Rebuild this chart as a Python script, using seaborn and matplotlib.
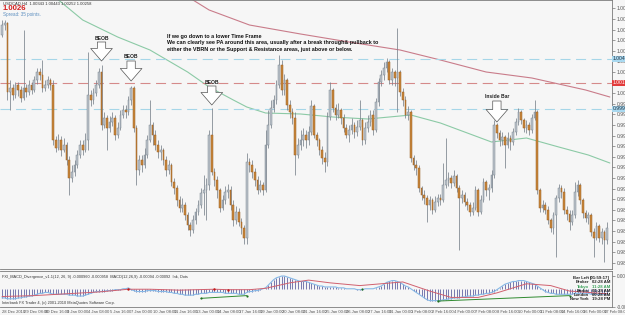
import numpy as np
import pandas as pd
import matplotlib
matplotlib.use("Agg")
import matplotlib.pyplot as plt
import seaborn as sns

# --- DATA (USDCAD H4) ---
first_open = 1.0065
closes = [1.0075, 1.0077, 1.0008, 1.0012, 1.0005, 1.0015, 1.0010, 1.0002, 1.0012, 1.0008,
          1.0015, 1.0010, 1.0020, 1.0028, 1.0025, 1.0012, 1.0015, 1.0020, 1.0015, 0.9960,
          0.9952, 0.9960, 0.9950, 0.9955, 0.9940, 0.9922, 0.9928, 0.9935, 0.9945, 0.9955,
          0.9950, 0.9960, 1.0005, 1.0000, 1.0007, 1.0015, 1.0028, 0.9975, 0.9982, 0.9972,
          0.9978, 0.9982, 0.9965, 0.9972, 0.9985, 0.9990, 0.9988, 1.0000, 1.0012, 0.9972,
          0.9930, 0.9940, 0.9935, 0.9945, 0.9960, 0.9975, 0.9965, 0.9955, 0.9948, 0.9950,
          0.9940, 0.9930, 0.9935, 0.9918, 0.9912, 0.9900, 0.9892, 0.9895, 0.9885, 0.9875,
          0.9870, 0.9880, 0.9888, 0.9895, 0.9907, 0.9910, 0.9915, 0.9965, 0.9928, 0.9920,
          0.9910, 0.9892, 0.9900, 0.9908, 0.9910, 0.9895, 0.9880, 0.9888, 0.9878, 0.9872,
          0.9862, 0.9938, 0.9935, 0.9928, 0.9920, 0.9910, 0.9915, 0.9910, 0.9955, 0.9975,
          0.9992, 1.0000, 1.0015, 1.0035, 1.0010, 1.0020, 0.9995, 0.9988, 0.9982, 0.9945,
          0.9955, 0.9960, 0.9965, 0.9960, 0.9968, 0.9994, 0.9965, 0.9960, 0.9950, 0.9942,
          0.9938, 0.9983, 1.0010, 0.9992, 0.9985, 0.9990, 0.9982, 0.9972, 0.9965, 0.9970,
          0.9975, 0.9968, 0.9973, 0.9980, 0.9960, 0.9972, 0.9978, 0.9985, 0.9970, 0.9998,
          1.0018, 1.0025, 1.0032, 1.0038, 1.0020, 1.0028, 1.0022, 1.0028, 1.0008, 1.0000,
          0.9985, 0.9988, 0.9942, 0.9935, 0.9932, 0.9912, 0.9905, 0.9902, 0.9895, 0.9900,
          0.9890, 0.9898, 0.9902, 0.9900, 0.9915, 0.9920, 0.9922, 0.9917, 0.9924, 0.9912,
          0.9902, 0.9905, 0.9898, 0.9895, 0.9888, 0.9892, 0.9910, 0.9888, 0.9900, 0.9918,
          0.9910, 0.9912, 0.9925, 0.9975, 0.9967, 0.9960, 0.9963, 0.9955, 0.9962, 0.9958,
          0.9968, 0.9978, 0.9988, 0.9980, 0.9972, 0.9975, 0.9970, 0.9982, 0.9988, 0.9910,
          0.9892, 0.9895, 0.9890, 0.9880, 0.9872, 0.9885, 0.9902, 0.9912, 0.9908, 0.9890,
          0.9886, 0.9878, 0.9885, 0.9908, 0.9915, 0.9900, 0.9887, 0.9882, 0.9885, 0.9868,
          0.9862, 0.9874, 0.9862, 0.9868, 0.9860, 0.9872]
highs = [1.0080, 1.0080, 1.0078, 1.0020, 1.0016, 1.0018, 1.0018, 1.0014, 1.0070, 1.0016,
         1.0020, 1.0018, 1.0024, 1.0032, 1.0032, 1.0040, 1.0020, 1.0024, 1.0022, 1.0020,
         0.9964, 0.9966, 0.9964, 0.9962, 0.9958, 0.9944, 0.9935, 0.9940, 0.9950, 0.9960,
         0.9960, 0.9967, 1.0048, 1.0010, 1.0012, 1.0020, 1.0032, 1.0035, 0.9988, 0.9985,
         0.9984, 0.9988, 0.9985, 0.9978, 0.9990, 0.9995, 0.9995, 1.0004, 1.0014, 1.0014,
         0.9975, 0.9945, 0.9945, 0.9952, 0.9965, 1.0000, 0.9978, 0.9970, 0.9960, 0.9955,
         0.9952, 0.9944, 0.9940, 0.9937, 0.9922, 0.9915, 0.9904, 0.9902, 0.9898, 0.9888,
         0.9878, 0.9885, 0.9892, 0.9900, 0.9912, 0.9925, 0.9922, 0.9970, 0.9992, 0.9932,
         0.9924, 0.9912, 0.9905, 0.9914, 0.9916, 0.9914, 0.9900, 0.9894, 0.9892, 0.9882,
         0.9875, 0.9947, 0.9942, 0.9940, 0.9932, 0.9924, 0.9920, 0.9918, 0.9970, 0.9990,
         1.0000, 1.0005, 1.0020, 1.0045, 1.0040, 1.0026, 1.0022, 1.0000, 0.9992, 0.9988,
         0.9962, 0.9970, 0.9972, 0.9970, 0.9974, 1.0000, 0.9996, 0.9968, 0.9962, 0.9954,
         0.9948, 0.9988, 1.0018, 1.0012, 0.9996, 0.9997, 0.9992, 0.9986, 0.9976, 0.9975,
         0.9982, 0.9978, 0.9980, 1.0000, 0.9982, 0.9978, 0.9985, 0.9990, 0.9990, 1.0002,
         1.0022, 1.0030, 1.0038, 1.0042, 1.0040, 1.0032, 1.0030, 1.0072, 1.0030, 1.0012,
         1.0004, 0.9994, 0.9990, 0.9945, 0.9940, 0.9935, 0.9914, 0.9910, 0.9905, 0.9904,
         0.9902, 0.9904, 0.9906, 0.9906, 0.9937, 0.9962, 0.9928, 0.9925, 0.9930, 0.9926,
         0.9915, 0.9910, 0.9908, 0.9902, 0.9898, 0.9898, 0.9914, 0.9912, 0.9905, 0.9922,
         0.9920, 0.9916, 0.9930, 0.9980, 0.9977, 0.9970, 0.9968, 0.9965, 0.9968, 0.9965,
         0.9972, 0.9982, 0.9992, 0.9990, 0.9982, 0.9980, 0.9978, 0.9986, 1.0000, 0.9990,
         0.9912, 0.9900, 0.9898, 0.9894, 0.9882, 0.9888, 0.9905, 0.9916, 0.9915, 0.9912,
         0.9894, 0.9890, 0.9890, 0.9918, 0.9920, 0.9917, 0.9902, 0.9890, 0.9888, 0.9887,
         0.9872, 0.9878, 0.9876, 0.9872, 0.9870, 0.9878]
lows = [1.0063, 1.0070, 1.0000, 0.9990, 1.0000, 1.0002, 1.0004, 0.9998, 1.0000, 1.0003,
        1.0005, 1.0006, 1.0008, 1.0016, 1.0020, 1.0008, 1.0009, 1.0012, 1.0010, 0.9955,
        0.9948, 0.9950, 0.9944, 0.9948, 0.9935, 0.9905, 0.9918, 0.9924, 0.9932, 0.9942,
        0.9945, 0.9948, 0.9950, 0.9994, 0.9996, 1.0004, 1.0012, 0.9970, 0.9972, 0.9950,
        0.9968, 0.9974, 0.9960, 0.9962, 0.9970, 0.9982, 0.9982, 0.9985, 0.9995, 0.9968,
        0.9915, 0.9925, 0.9928, 0.9932, 0.9942, 0.9958, 0.9955, 0.9950, 0.9942, 0.9940,
        0.9935, 0.9924, 0.9926, 0.9914, 0.9906, 0.9894, 0.9888, 0.9888, 0.9880, 0.9870,
        0.9864, 0.9867, 0.9876, 0.9885, 0.9892, 0.9885, 0.9880, 0.9910, 0.9925, 0.9914,
        0.9902, 0.9888, 0.9890, 0.9896, 0.9902, 0.9890, 0.9874, 0.9876, 0.9874, 0.9866,
        0.9856, 0.9856, 0.9928, 0.9922, 0.9914, 0.9906, 0.9908, 0.9905, 0.9908, 0.9952,
        0.9972, 0.9988, 0.9996, 1.0012, 1.0005, 1.0005, 0.9990, 0.9982, 0.9976, 0.9925,
        0.9942, 0.9950, 0.9954, 0.9952, 0.9955, 0.9965, 0.9962, 0.9954, 0.9945, 0.9936,
        0.9928, 0.9934, 0.9980, 0.9988, 0.9980, 0.9982, 0.9976, 0.9968, 0.9962, 0.9958,
        0.9966, 0.9962, 0.9964, 0.9970, 0.9955, 0.9956, 0.9968, 0.9974, 0.9965, 0.9968,
        0.9994, 1.0014, 1.0020, 1.0028, 1.0016, 1.0015, 1.0014, 0.9988, 1.0004, 0.9994,
        0.9982, 0.9980, 0.9938, 0.9930, 0.9925, 0.9908, 0.9900, 0.9896, 0.9878, 0.9890,
        0.9886, 0.9888, 0.9894, 0.9895, 0.9898, 0.9912, 0.9914, 0.9912, 0.9914, 0.9908,
        0.9850, 0.9897, 0.9894, 0.9890, 0.9884, 0.9885, 0.9890, 0.9884, 0.9886, 0.9898,
        0.9904, 0.9900, 0.9908, 0.9922, 0.9962, 0.9954, 0.9955, 0.9932, 0.9952, 0.9950,
        0.9955, 0.9965, 0.9975, 0.9976, 0.9968, 0.9967, 0.9965, 0.9967, 0.9980, 0.9906,
        0.9888, 0.9888, 0.9886, 0.9876, 0.9868, 0.9866, 0.9843, 0.9898, 0.9902, 0.9886,
        0.9880, 0.9870, 0.9875, 0.9882, 0.9904, 0.9896, 0.9882, 0.9878, 0.9876, 0.9864,
        0.9843, 0.9860, 0.9858, 0.9856, 0.9838, 0.9856]

# moving averages, read at a few bars
ma_red_bars = [40, 55, 71, 77, 92, 111, 129, 148, 163, 180, 197, 207, 217, 226]
ma_red_vals = [1.0140, 1.0120, 1.0100, 1.0090, 1.0075, 1.0066, 1.0058, 1.0050, 1.0040,
               1.0028, 1.0022, 1.0016, 1.0010, 1.0003]
ma_green_bars = [10, 21, 30, 43, 55, 69, 77, 86, 91, 98, 111, 123, 136, 152, 163, 182,
                 195, 207, 218, 226]
ma_green_vals = [1.0130, 1.0100, 1.0080, 1.0063, 1.0050, 1.0028, 1.0013, 1.0000, 0.9993,
                 0.9987, 0.9986, 0.9983, 0.9981, 0.9985, 0.9977, 0.9958, 0.9962, 0.9953,
                 0.9945, 0.9937]

# horizontal levels
level_prices = [1.0041, 1.0017, 0.9991]
level_colors = ['#a6d6e8', '#d58a8a', '#a6d6e8']
level_boxes = ['#a9d9f0', '#e23b3b', '#a9d9f0']

# MACD main (in 1e-4)
macd_pips = [-20, -20, -22, -22, -22, -22, -20, -20,
             -18, -18, -16, -16, -14,
             -12, -10, -10, -8, -8, -10, -12, -12, -12, -12, -12, -12,
             -14, -14, -14, -16, -16, -16, -14,
             -12, -10, -8, -6, -6, -6, -6, -4, -4, -4, -2, -2, -2, 0, 0, 2,
             -2, -4, -6, -6, -6, -6, -4, -4, -4, -4, -6, -6, -6, -6, -8, -8, -10, -10,
             -12, -12, -14, -14, -14, -14, -12, -12, -10, -10, -10, -8, -8, -8, -8, -8, -8,
             -10, -10, -10, -10, -10, -12, -12, -12,
             -8, -6, -6, -4, -4, -2, 0,
             2, 8, 14, 20, 24, 26, 28, 28, 26, 24, 22, 20, 18, 16,
             16, 16, 14, 12, 10, 8, 6, 6, 4,
             4, 4, 4, 4, 2, 2, 2, 0, 0, 0, 0, -2, -2, -2, 0, 0, 0, 0, 2, 4,
             6, 10, 14, 16, 18, 18, 16, 14, 10, 6, 4,
             0, -4, -8, -12, -16, -20, -24, -26, -26,
             -26, -26, -26, -24, -24, -22, -22, -20, -20, -20,
             -18, -18, -16, -16, -16, -14, -14, -12, -12, -10, -10, -8,
             -6, -2, 2, 6, 10, 12, 14, 16, 16, 18, 18, 18, 16, 14, 12, 10,
             6, 2, -2, -6, -8, -10, -10, -12, -12, -12, -12, -12,
             -12, -12, -10, -10, -10, -10, -10, -10, -12, -12, -12, -12, -12, -12, -12]
signal_bars = [0, 12, 24, 36, 47, 55, 66, 79, 84, 92, 98, 107, 114, 122, 133, 149, 159,
               167, 177, 184, 195, 204, 211, 225]
signal_pips = [-17, -15, -11, -7, -1, -1, -3, -1, -2, -2, 1, 13, 19, 13, 7, 15, -5,
               -19, -19, -9, 11, 7, -5, -11]
red_dot_bars = [47, 79, 84]
red_dot_pips = [-1, -1, -2]
div_bars = [[74, 91], [162, 211]]
div_pips = [[-21, -15], [-27, -15]]
green_dot_bars = [74, 91, 134, 162, 211]
green_dot_pips = [-21, -15, -1, -27, -15]

date_labels = ["28 Dec 2010", "29 Dec 08:00", "30 Dec 16:00", "3 Jan 00:00", "4 Jan 08:00",
               "5 Jan 16:00", "7 Jan 00:00", "10 Jan 08:00", "11 Jan 16:00", "13 Jan 00:00",
               "14 Jan 08:00", "17 Jan 16:00", "19 Jan 00:00", "20 Jan 08:00", "21 Jan 16:00",
               "25 Jan 00:00", "26 Jan 08:00", "27 Jan 16:00", "31 Jan 00:00", "1 Feb 08:00",
               "2 Feb 16:00", "4 Feb 00:00", "7 Feb 08:00", "8 Feb 16:00", "10 Feb 00:00",
               "11 Feb 08:00", "14 Feb 16:00", "16 Feb 00:00", "17 Feb 08:00"]

# annotations: (label, bar, text price, arrow start, arrow tip)
marks = [("BEOB", 37, 1.0062, 1.0058, 1.0039),
         ("BEOB", 48, 1.0044, 1.0039, 1.0019),
         ("BEOB", 78, 1.0018, 1.0014, 0.9995),
         ("Inside Bar", 184, 1.0004, 0.9999, 0.9978)]
note_lines = ["If we go down to a lower Time Frame",
              "We can clearly see PA around this area, usually after a break through& pullback to",
              "either the VBRN or the Support & Resistance areas, just above or below."]

# --- STYLE ---
sns.set_theme(style="white")
plt.rcParams['font.family'] = ['Liberation Sans', 'DejaVu Sans']
BG = '#f6f6f6'
BULL_FILL, BULL_EDGE = '#bcc3ca', '#7b8793'
BEAR_FILL, BEAR_EDGE = '#c9873c', '#9b5f22'
WICK = '#7a828c'

W, H = 625, 315
fig = plt.figure(figsize=(W / 100, H / 100), dpi=100, facecolor=BG)
ax = fig.add_axes([0, 46 / H, 612 / W, 269 / H], facecolor=BG)
ax2 = fig.add_axes([0, 8 / H, 612 / W, 36 / H], facecolor=BG, sharex=ax)

closes_a = np.array(closes)
opens_a = np.array([first_open] + closes[:-1])
highs_a = np.maximum.reduce([np.array(highs), opens_a, closes_a])
lows_a = np.minimum.reduce([np.array(lows), opens_a, closes_a])
idx = np.arange(len(closes))
up = closes_a >= opens_a

# candles
ax.vlines(idx, lows_a, highs_a, color=WICK, linewidth=0.55, zorder=2)
ax.bar(idx[up], np.maximum(closes_a - opens_a, 0.00003)[up], bottom=opens_a[up], width=0.62,
       color=BULL_FILL, edgecolor=BULL_EDGE, linewidth=0.35, zorder=3)
ax.bar(idx[~up], (closes_a - opens_a)[~up], bottom=opens_a[~up], width=0.62,
       color=BEAR_FILL, edgecolor=BEAR_EDGE, linewidth=0.35, zorder=3)

# moving averages
ma_df = pd.DataFrame({'bar': ma_red_bars, 'price': ma_red_vals})
sns.lineplot(data=ma_df, x='bar', y='price', ax=ax, color='#c97c8a', linewidth=0.8, zorder=1)
ma_df = pd.DataFrame({'bar': ma_green_bars, 'price': ma_green_vals})
sns.lineplot(data=ma_df, x='bar', y='price', ax=ax, color='#8ccaa6', linewidth=0.8, zorder=1)

# dashed levels with price boxes
for p, c, bc in zip(level_prices, level_colors, level_boxes):
    ax.axhline(p, color=c, linestyle=(0, (9, 5)), linewidth=0.8, zorder=1)
    ax.text(1.001, p, f"{p:.5f}", transform=ax.get_yaxis_transform(), fontsize=3.6,
            va='center', ha='left', color='white' if bc == '#e23b3b' else '#203040',
            bbox=dict(boxstyle='square,pad=0.15', fc=bc, ec='none'), clip_on=False, zorder=6)

ax.set_xlim(-0.75, 226.8)
ax.set_ylim(0.9831, 1.0100)
ax.yaxis.tick_right()
yt = 1.00917 - 0.00106 * np.arange(25)
ax.set_yticks(yt)
ax.set_yticklabels([f"{v:.5f}" for v in yt], fontsize=3.6, color='#333333')
ax.tick_params(axis='y', length=2, width=0.4, pad=1.5, colors='#555555')
ax.tick_params(axis='x', bottom=False, labelbottom=False)
ax.set_xlabel('')
ax.set_ylabel('')
for s in ax.spines.values():
    s.set_color('#7a7a7a')
    s.set_linewidth(0.6)
ax.spines['left'].set_visible(False)

# hollow block arrows + labels
for label, b, tp, y0, y1 in marks:
    ax.annotate('', xy=(b, y1), xytext=(b, y0),
                arrowprops=dict(arrowstyle='simple,head_length=0.75,head_width=1.3,tail_width=0.5',
                                fc='white', ec='#555555', lw=0.5, shrinkA=0, shrinkB=0),
                zorder=7)
    ax.text(b, tp, label, ha='center', va='center', fontsize=3.6, fontweight='bold',
            color='#222222', zorder=7)

for line, yy in zip(note_lines, [36.5, 42.5, 49]):
    fig.text(167 / W, 1 - yy / H, line, fontsize=3.9, fontweight='bold', va='center', color='#111111')

# header
fig.text(3 / W, 1 - 3.5 / H, "USDCAD,H4  1.00343 1.00443 1.00252 1.00258", fontsize=3.0,
         va='center', color='#333333')
fig.text(3 / W, 1 - 8.5 / H, "1.0026", fontsize=5.6, fontweight='bold', va='center', color='#d42020')
fig.text(3 / W, 1 - 14.5 / H, "Spread: 35 points.", fontsize=3.3, va='center', color='#5d8fc0')

# --- MACD panel ---
macd = np.array(macd_pips) * 1e-4
ax2.vlines(idx, 0, macd, color='#55589a', linewidth=0.55, zorder=2)
sns.lineplot(x=idx, y=macd, ax=ax2, color='#86b8e6', linewidth=0.8, zorder=3)
sns.lineplot(x=signal_bars, y=np.array(signal_pips) * 1e-4, ax=ax2, color='#d0606e',
             linewidth=0.7, zorder=4)
for bb, pp in zip(div_bars, div_pips):
    ax2.plot(bb, np.array(pp) * 1e-4, color='#2f8a2f', linewidth=0.7, zorder=5)
ax2.scatter(green_dot_bars, np.array(green_dot_pips) * 1e-4, s=2.5, color='#1f6f1f', zorder=6, linewidths=0)
ax2.scatter(red_dot_bars, np.array(red_dot_pips) * 1e-4, s=3, color='#c01818', zorder=6, linewidths=0)
ax2.set_ylim(-0.0040, 0.0039)
ax2.yaxis.tick_right()
ax2.set_yticks([0.00274, -0.00394])
ax2.set_yticklabels(["0.00274", "-0.00394"], fontsize=3.4, color='#333333')
ax2.tick_params(axis='y', length=2, width=0.4, pad=1.5, colors='#555555')
ax2.set_xticks(np.arange(0, 8 * len(date_labels), 8))
ax2.set_xticklabels(date_labels, fontsize=3.0, ha='left', color='#333333')
ax2.tick_params(axis='x', length=1.5, width=0.4, pad=0.6, colors='#555555')
ax2.set_xlabel('')
ax2.set_ylabel('')
for s in ax2.spines.values():
    s.set_color('#7a7a7a')
    s.set_linewidth(0.6)
ax2.spines['left'].set_visible(False)

ax2.text(0.003, 0.84, "FXI_MACD_Divergence_v1.1(12, 26, 9) -0.000960 -0.000958  MACD(12,26,9) -0.00094 -0.00092  Ink, Dots",
         transform=ax2.transAxes, fontsize=2.8, color='#333333', va='center')
ax2.text(0.003, 0.1, "Interbank FX Trader 4, (c) 2001-2010 MetaQuotes Software Corp.",
         transform=ax2.transAxes, fontsize=2.8, color='#333333', va='center')

# clock box, inside the MACD panel
clock_names = ["Bar Left", "Broker", "Tokyo", "Berlin", "London", "New York"]
clock_times = ["[01:59:17]", "02:28 AM", "11:28 AM", "01:28 AM", "00:28 AM", "19:28 PM"]
clock_colors = ['#222222', '#222222', '#3aa05a', '#222222', '#222222', '#222222']
for k, (nm, tm, cc) in enumerate(zip(clock_names, clock_times, clock_colors)):
    yy = 1 - (278 + 4.3 * k) / H
    fig.text(589 / W, yy, nm, fontsize=3.1, fontweight='bold', ha='right', va='center', color=cc)
    fig.text(610 / W, yy, tm, fontsize=3.1, fontweight='bold', ha='right', va='center', color=cc)

fig.savefig("out.png", dpi=100, facecolor=BG)
